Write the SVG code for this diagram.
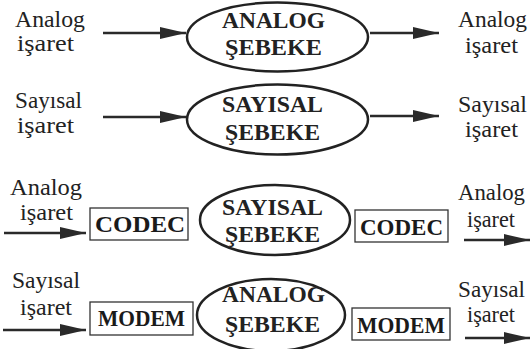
<svg xmlns="http://www.w3.org/2000/svg" width="530" height="349" viewBox="0 0 530 349" font-family="Liberation Serif, serif">
  <style>
    text { font-family: "Liberation Serif", serif; }
    .lbl { font-size: 23px; fill: #222; }
    .lbl2 { font-size: 24px; fill: #222; }
    .net { fill: #fff; stroke: #222; stroke-width: 2.5; }
    .nettxt { font-size: 23px; font-weight: bold; fill: #222; }
    .box { fill: #fff; stroke: #333; stroke-width: 1.3; }
    .boxtxt { font-size: 23px; font-weight: bold; fill: #1a1a1a; }
    .wire { fill: none; stroke: #2a2a2a; stroke-width: 2.5; marker-end: url(#head); }
  </style>
  <defs>
    <marker id="head" markerUnits="userSpaceOnUse" markerWidth="28" markerHeight="16" refX="26" refY="8" orient="auto">
      <path d="M0,2 L26,8 L0,14 Z" fill="#2a2a2a"/>
    </marker>
  </defs>
  <rect width="530" height="349" fill="#fff"/>

  <!-- signal labels -->
  <g id="labels">
    <text class="lbl" x="15" y="27" textLength="70" lengthAdjust="spacingAndGlyphs">Analog</text>
    <text class="lbl" x="17" y="51" textLength="57" lengthAdjust="spacingAndGlyphs">işaret</text>
    <text class="lbl" x="458" y="27" textLength="69" lengthAdjust="spacingAndGlyphs">Analog</text>
    <text class="lbl" x="465" y="53" textLength="53" lengthAdjust="spacingAndGlyphs">işaret</text>

    <text class="lbl" x="15" y="108" textLength="67" lengthAdjust="spacingAndGlyphs">Sayısal</text>
    <text class="lbl" x="17" y="133" textLength="57" lengthAdjust="spacingAndGlyphs">işaret</text>
    <text class="lbl" x="458" y="112" textLength="69" lengthAdjust="spacingAndGlyphs">Sayısal</text>
    <text class="lbl" x="465" y="137" textLength="53" lengthAdjust="spacingAndGlyphs">işaret</text>

    <text class="lbl2" x="10" y="195" textLength="72" lengthAdjust="spacingAndGlyphs">Analog</text>
    <text class="lbl2" x="20" y="220" textLength="53" lengthAdjust="spacingAndGlyphs">işaret</text>
    <text class="lbl" x="458" y="200" textLength="67" lengthAdjust="spacingAndGlyphs">Analog</text>
    <text class="lbl" x="467" y="227" textLength="48" lengthAdjust="spacingAndGlyphs">işaret</text>

    <text class="lbl2" x="12" y="288" textLength="68" lengthAdjust="spacingAndGlyphs">Sayısal</text>
    <text class="lbl2" x="20" y="315" textLength="52" lengthAdjust="spacingAndGlyphs">işaret</text>
    <text class="lbl2" x="458" y="297" textLength="67" lengthAdjust="spacingAndGlyphs">Sayısal</text>
    <text class="lbl2" x="467" y="322" textLength="48" lengthAdjust="spacingAndGlyphs">işaret</text>
  </g>

  <!-- connectors -->
  <g id="connectors">
    <path class="wire" d="M103,33 H186"/>
    <path class="wire" d="M370,33 H439"/>
    <path class="wire" d="M103,117 H186"/>
    <path class="wire" d="M370,116 H439"/>
    <path class="wire" d="M4,233 H86"/>
    <path class="wire" d="M464,240 H530"/>
    <path class="wire" d="M3,330 H86"/>
    <path class="wire" d="M465,338 H530"/>
  </g>

  <!-- row 1: analog network -->
  <g id="net-analog-1">
    <ellipse class="net" cx="277.5" cy="37" rx="90.5" ry="34.5"/>
    <text class="nettxt" x="222" y="28" textLength="103" lengthAdjust="spacingAndGlyphs">ANALOG</text>
    <text class="nettxt" x="225" y="55" textLength="97" lengthAdjust="spacingAndGlyphs">ŞEBEKE</text>
  </g>

  <!-- row 2: digital network -->
  <g id="net-digital-1">
    <ellipse class="net" cx="277.5" cy="119.5" rx="90.5" ry="35"/>
    <text class="nettxt" x="222" y="112" textLength="101" lengthAdjust="spacingAndGlyphs">SAYISAL</text>
    <text class="nettxt" x="225" y="140" textLength="95" lengthAdjust="spacingAndGlyphs">ŞEBEKE</text>
  </g>

  <!-- row 3: codec + digital network + codec -->
  <g id="codec-in">
    <rect class="box" x="90" y="208" width="98" height="32"/>
    <text class="boxtxt" x="95" y="232" textLength="90" lengthAdjust="spacingAndGlyphs">CODEC</text>
  </g>
  <g id="net-digital-2">
    <ellipse class="net" cx="275" cy="220" rx="75" ry="35"/>
    <text class="nettxt" x="222" y="215" textLength="101" lengthAdjust="spacingAndGlyphs">SAYISAL</text>
    <text class="nettxt" x="225" y="242" textLength="95" lengthAdjust="spacingAndGlyphs">ŞEBEKE</text>
  </g>
  <g id="codec-out">
    <rect class="box" x="355" y="210" width="93" height="32"/>
    <text class="boxtxt" x="360" y="235" textLength="83" lengthAdjust="spacingAndGlyphs">CODEC</text>
  </g>

  <!-- row 4: modem + analog network + modem -->
  <g id="modem-in">
    <rect class="box" x="90" y="302" width="103" height="33"/>
    <text class="boxtxt" x="98" y="326" textLength="87" lengthAdjust="spacingAndGlyphs">MODEM</text>
  </g>
  <g id="net-analog-2">
    <ellipse class="net" cx="271" cy="315" rx="74" ry="36"/>
    <text class="nettxt" x="222" y="302" textLength="103" lengthAdjust="spacingAndGlyphs">ANALOG</text>
    <text class="nettxt" x="225" y="332" textLength="95" lengthAdjust="spacingAndGlyphs">ŞEBEKE</text>
  </g>
  <g id="modem-out">
    <rect class="box" x="352" y="308" width="98" height="32"/>
    <text class="boxtxt" x="357" y="333" textLength="88" lengthAdjust="spacingAndGlyphs">MODEM</text>
  </g>
</svg>
